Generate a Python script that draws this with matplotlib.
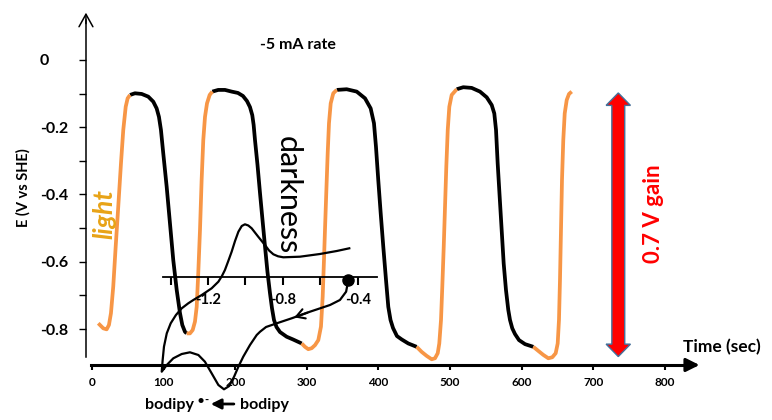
import numpy as np
import matplotlib.pyplot as plt
import matplotlib.patches as mpatches

plt.rcParams['font.family'] = ['Lato', 'DejaVu Sans']

# light (orange) and darkness (black) segments of the potential trace, time in s, E in V vs SHE
light_t = [
    [8.8, 15.8, 20.5, 23.7, 26.5, 29.7, 33.1, 36.7, 40.5, 43.7, 47.1, 49.8, 53.1],
    [132.2, 136.8, 140.6, 143.8, 146.2, 148.4, 150.8, 153.1, 155.4, 157.8, 160.6, 164.3, 168.0],
    [292.8, 297.4, 302.0, 306.8, 311.4, 316.0, 319.7, 322.1, 323.9, 325.3, 327.1, 329.1, 330.9,
     333.3, 336.9, 341.7],
    [453.3, 460.3, 467.3, 474.3, 478.9, 482.7, 484.9, 487.3, 489.1, 491.1, 492.9, 494.7, 496.7,
     498.9, 502.2, 509.2],
    [616.2, 623.1, 630.1, 637.1, 642.7, 647.4, 650.2, 652.0, 653.4, 654.8, 656.2, 658.0, 660.0,
     662.8, 666.0, 669.8],
]
light_E = [
    [-0.783, -0.798, -0.801, -0.788, -0.753, -0.674, -0.555, -0.436, -0.307, -0.208, -0.139, -0.114, -0.104],
    [-0.813, -0.813, -0.803, -0.778, -0.734, -0.634, -0.506, -0.357, -0.238, -0.169, -0.129, -0.104, -0.094],
    [-0.843, -0.853, -0.860, -0.857, -0.848, -0.833, -0.793, -0.704, -0.595, -0.506, -0.396, -0.277, -0.188,
     -0.129, -0.099, -0.089],
    [-0.853, -0.868, -0.880, -0.890, -0.887, -0.872, -0.843, -0.773, -0.674, -0.555, -0.436, -0.317, -0.208,
     -0.139, -0.104, -0.087],
    [-0.853, -0.865, -0.877, -0.887, -0.884, -0.872, -0.843, -0.773, -0.654, -0.506, -0.357, -0.238, -0.159,
     -0.119, -0.101, -0.094],
]
dark_t = [
    [53.1, 60.0, 69.4, 78.6, 85.6, 90.3, 93.5, 96.3, 99.5, 104.3, 108.9, 113.5, 118.3, 122.9, 126.1,
     129.8, 132.2],
    [168.0, 176.3, 185.7, 195.0, 203.8, 210.8, 216.4, 220.6, 223.8, 225.7, 227.6, 231.1, 234.6, 238.1,
     241.6, 245.0, 248.5, 251.3, 254.1, 257.6, 262.5, 271.8, 280.6, 292.8],
    [341.7, 355.6, 369.6, 381.2, 389.1, 393.7, 396.5, 399.7, 403.1, 406.7, 410.5, 413.7, 416.8, 420.3,
     425.8, 432.4, 441.6, 453.3],
    [509.2, 518.4, 530.1, 541.7, 551.1, 558.1, 561.7, 564.1, 566.4, 569.2, 572.0, 574.8, 578.0, 581.2,
     583.6, 586.8, 590.6, 596.2, 604.6, 616.2],
]
dark_E = [
    [-0.104, -0.099, -0.101, -0.109, -0.124, -0.144, -0.169, -0.208, -0.277, -0.377, -0.486, -0.595,
     -0.684, -0.753, -0.788, -0.808, -0.813],
    [-0.094, -0.089, -0.089, -0.094, -0.098, -0.107, -0.122, -0.140, -0.164, -0.193, -0.238, -0.312,
     -0.396, -0.476, -0.555, -0.630, -0.693, -0.738, -0.773, -0.794, -0.809, -0.823, -0.831, -0.843],
    [-0.089, -0.087, -0.094, -0.114, -0.144, -0.188, -0.258, -0.357, -0.456, -0.555, -0.654, -0.734,
     -0.773, -0.797, -0.821, -0.831, -0.843, -0.853],
    [-0.087, -0.081, -0.083, -0.094, -0.111, -0.134, -0.159, -0.208, -0.307, -0.407, -0.506, -0.605,
     -0.684, -0.743, -0.773, -0.798, -0.815, -0.833, -0.845, -0.853],
]

# inset cyclic voltammogram (E in V, current in arbitrary units)
cv_E = [-0.450, -0.462, -0.495, -0.548, -0.655, -0.753, -0.833, -0.890, -0.922, -0.940,
        -0.976, -1.012, -1.038, -1.061, -1.087, -1.115, -1.145, -1.181, -1.217, -1.252,
        -1.297, -1.341, -1.386, -1.421, -1.448, -1.443, -1.436, -1.421, -1.400, -1.372,
        -1.341, -1.306, -1.279, -1.234, -1.181, -1.145, -1.126, -1.110, -1.092, -1.074,
        -1.056, -1.038, -1.020, -1.003, -0.985, -0.967, -0.932, -0.896, -0.874, -0.851,
        -0.826, -0.798, -0.709, -0.602, -0.512, -0.445]
cv_I = [-0.27, -1.44, -2.27, -2.77, -3.44, -4.10, -4.60, -4.97, -5.44, -5.77,
        -6.77, -7.94, -8.94, -9.94, -10.87, -11.20, -10.77, -9.60, -8.44, -7.77,
        -7.50, -7.67, -8.10, -8.77, -9.44, -8.27, -6.94, -5.60, -4.60, -3.77,
        -3.10, -2.60, -2.27, -1.77, -1.10, -0.44, 0.13, 0.73, 1.63, 2.56,
        3.63, 4.56, 5.13, 5.30, 5.18, 4.90, 4.06, 3.23, 2.68, 2.30,
        2.10, 2.00, 2.06, 2.33, 2.63, 2.90]

x_ticks = [0, 100, 200, 300, 400, 500, 600, 700, 800]
y_ticks = [0, -0.1, -0.2, -0.3, -0.4, -0.5, -0.6, -0.7, -0.8]
y_labels = ['0', '', '-0.2', '', '-0.4', '', '-0.6', '', '-0.8']
cv_ticks = [-1.4, -1.2, -1.0, -0.8, -0.6, -0.4]
cv_labels = ['', '-1.2', '', '-0.8', '', '-0.4']

orange = '#F79646'
fig = plt.figure(figsize=(7.72, 4.2), dpi=100)
ax = fig.add_axes([0, 0, 1, 1])
ax.set_xlim(-128.4, 949.4)
ax.set_ylim(-1.0706, 0.1784)
ax.patch.set_alpha(0)

for t, e in zip(dark_t, dark_E):
    ax.plot(t, e, color='black', lw=2.7, solid_capstyle='butt', solid_joinstyle='round')
for t, e in zip(light_t, light_E):
    ax.plot(t, e, color=orange, lw=2.7, solid_capstyle='butt', solid_joinstyle='round')

# axes
for s in ['top', 'right']:
    ax.spines[s].set_visible(False)
ax.spines['left'].set_position(('data', -8.4))
ax.spines['left'].set_bounds(-0.883, 0.12)
ax.spines['left'].set_linewidth(1.1)
ax.spines['bottom'].set_position(('data', -0.907))
ax.spines['bottom'].set_bounds(-2, 840)
ax.spines['bottom'].set_linewidth(2.2)
ax.annotate('', xy=(-8.4, 0.149), xytext=(-8.4, 0.10),
            arrowprops=dict(arrowstyle='->,head_length=0.9,head_width=0.5', color='black', lw=1.1))
ax.annotate('', xy=(852, -0.907), xytext=(830, -0.907),
            arrowprops=dict(arrowstyle='-|>,head_length=0.8,head_width=0.4', color='black', lw=2.2))

ax.set_xticks(x_ticks)
ax.set_xticklabels([str(v) for v in x_ticks], fontsize=8.5, fontweight='bold')
ax.tick_params(axis='x', direction='out', length=3.5, width=1.5, pad=5)
ax.set_yticks(y_ticks)
ax.set_yticklabels(y_labels, fontsize=11.5, fontweight='bold')
ax.tick_params(axis='y', direction='out', length=5, width=1.0, pad=28)
for lbl in ax.get_yticklabels():
    lbl.set_horizontalalignment('left')

ax.text(-96.3, -0.381, 'E (V vs SHE)', rotation=90, fontsize=10.5, fontweight='bold',
        ha='center', va='center')
ax.text(879.6, -0.854, 'Time (sec)', fontsize=12.5, fontweight='bold', ha='center', va='center')
ax.text(287.6, 0.045, '-5 mA rate', fontsize=11.5, fontweight='bold', ha='center', va='center')
ax.text(16.8, -0.458, 'light', rotation=90, fontsize=19, fontweight='bold', style='italic',
        color='#E8A317', ha='center', va='center')
ax.text(273.7, -0.401, 'darkness', rotation=270, fontsize=22, color='black',
        ha='center', va='center')
ax.text(783.3, -0.458, '0.7 V gain', rotation=90, fontsize=16, fontweight='bold',
        color='#FF0000', ha='center', va='center')

# red double arrow
ax_x, top, bot = 734.8, -0.098, -0.882
hs, hh, hl = 9.0, 17.0, 0.037
arrow_pts = [(ax_x, top), (ax_x + hh, top - hl), (ax_x + hs, top - hl), (ax_x + hs, bot + hl),
             (ax_x + hh, bot + hl), (ax_x, bot), (ax_x - hh, bot + hl), (ax_x - hs, bot + hl),
             (ax_x - hs, top - hl), (ax_x - hh, top - hl)]
ax.add_patch(mpatches.Polygon(arrow_pts, closed=True, facecolor='#FF0000',
                              edgecolor='#41719C', lw=1.0, zorder=3))

# bodipy labels
ax.text(108.9, -1.026, 'bodipy', fontsize=11.5, fontweight='bold', ha='center', va='center')
ax.text(152.2, -1.013, '\u2022', fontsize=10, ha='center', va='center')
ax.text(159.5, -1.012, '-', fontsize=8, fontweight='bold', ha='center', va='center')
ax.text(240.2, -1.026, 'bodipy', fontsize=11.5, fontweight='bold', ha='center', va='center')
ax.annotate('', xy=(162.0, -1.023), xytext=(202.0, -1.023),
            arrowprops=dict(arrowstyle='-|>,head_length=0.6,head_width=0.3', color='black', lw=2.0))

# inset CV
ax_in = fig.add_axes([150 / 772, 20 / 420, 230 / 772, 190 / 420])
ax_in.set_xlim(-1.5107, -0.2807)
ax_in.set_ylim(-12.27, 6.73)
ax_in.patch.set_alpha(0)
for s in ['top', 'right', 'left']:
    ax_in.spines[s].set_visible(False)
ax_in.spines['bottom'].set_position(('data', 0))
ax_in.spines['bottom'].set_bounds(-1.4396, -0.2984)
ax_in.spines['bottom'].set_linewidth(1.3)
ax_in.set_yticks([])
ax_in.set_xticks(cv_ticks)
ax_in.set_xticklabels(cv_labels, fontsize=10.5, fontweight='bold')
ax_in.tick_params(axis='x', direction='out', length=6, width=1.5, pad=5)
ax_in.plot(cv_E, cv_I, color='black', lw=1.6, zorder=3, solid_joinstyle='round')
ax_in.plot(cv_E[0], cv_I[0], 'o', color='black', ms=8, zorder=4)
ax_in.annotate('', xy=(cv_E[5], cv_I[5]), xytext=(cv_E[4], cv_I[4]),
               arrowprops=dict(arrowstyle='->,head_length=0.6,head_width=0.35', color='black', lw=1.5))

fig.savefig('out.png', dpi=100)
